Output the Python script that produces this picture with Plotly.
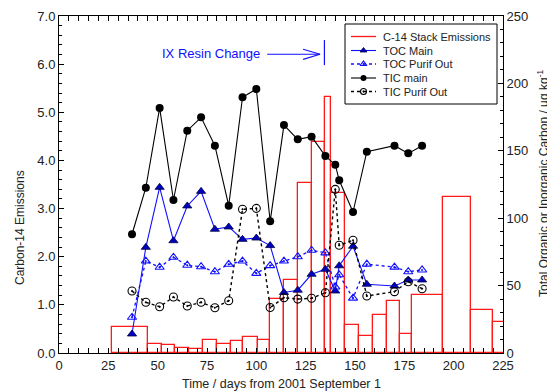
import numpy as np
import plotly.graph_objects as go

# ---- Data ----
# C-14 stack emissions: histogram-like bars between sampling dates (days)
bar_edges = [27, 45, 52, 59, 66, 73, 80, 87, 93, 101, 107, 114, 121, 128, 135,
             138, 145, 152, 159, 166, 173, 179, 194.5, 209, 220, 228]
c14_emissions = [0.53, 0.18, 0.16, 0.11, 0.09, 0.28, 0.19, 0.24, 0.34, 0.28,
                 1.12, 1.52, 3.53, 4.38, 5.32, 3.33, 0.58, 0.36, 0.78, 1.07,
                 0.39, 1.21, 3.25, 0.89, 0.64]

sample_days = [37, 44, 51, 58, 65, 72, 79, 86, 93, 100, 107, 114, 121, 128, 135,
               140, 142, 149, 156, 170, 177, 184]
toc_main = [14.1, 78.4, 122.9, 83.3, 109.1, 119.9, 91.8, 93.5, 84.3, 85.3, 79.7,
            44.9, 46.6, 58.4, 62.1, 46.0, 64.7, 79.2, 51.0, 49.7, 54.2, 54.2]
toc_purif = [26.5, 68.2, 63.6, 71.0, 65.1, 64.0, 60.3, 65.8, 68.2, 59.1, 64.8,
             68.2, 71.4, 76.2, 74.3, 49.0, 58.0, 40.7, 65.9, 63.7, 60.3, 61.6]
tic_main = [88.1, 122.6, 181.8, 113.5, 164.9, 174.8, 153.8, 109.3, 189.7, 195.8,
            97.7, 169.1, 158.5, 160.5, 146.1, 139.7, 128.1, 104.6, 149.3, 153.8,
            148.1, 153.8]
tic_purif = [46.0, 37.6, 34.3, 41.5, 34.9, 37.6, 33.6, 38.8, 106.6, 107.3, 33.7,
             41.0, 40.0, 40.6, 44.7, 121.4, 79.9, 83.6, 42.3, 45.5, 52.9, 47.7]

resin_change_day = 134.5
legend_names = ["C-14 Stack Emissions", "TOC Main", "TOC Purif Out", "TIC main", "TIC Purif Out"]

edges = np.array(bar_edges, dtype=float)
centers = (edges[:-1] + edges[1:]) / 2
widths = np.diff(edges)

FONT = "Liberation Sans, Arial, sans-serif"
BLUE = "#1010ff"
RED = "#ff1a1a"
TXT = "#222"

# The page body has an 8px margin, so the figure is placed at (8, 8) on screen.
OFF = 8
W, H = 555 - OFF, 392 - OFF
# plot-area geometry in screen pixels
L, R, T, B = 59, 503, 16, 353
def px(xp):
    return (xp - L) / (R - L)
def py(yp):
    return (B - yp) / (B - T)

styles = {
    "TOC Main": dict(line=dict(color=BLUE, width=1.1),
                     marker=dict(symbol="triangle-up", size=8, color="#0000c0",
                                 line=dict(color="#000040", width=0.8))),
    "TOC Purif Out": dict(line=dict(color=BLUE, width=1.3, dash="dot"),
                          marker=dict(symbol="triangle-up-open-dot", size=8, color=BLUE,
                                      line=dict(color=BLUE, width=1.1))),
    "TIC main": dict(line=dict(color="black", width=1.1),
                     marker=dict(symbol="circle", size=8, color="black")),
    "TIC Purif Out": dict(line=dict(color="black", width=1.4, dash="dot"),
                          marker=dict(symbol="circle-open-dot", size=8, color="black",
                                      line=dict(color="black", width=1.1))),
}

fig = go.Figure()

fig.add_trace(go.Bar(
    x=centers, y=c14_emissions, width=widths, yaxis="y",
    marker=dict(color="rgba(0,0,0,0)", line=dict(color=RED, width=1.3)),
    showlegend=False, hoverinfo="skip"))

for name, vals in [("TOC Main", toc_main), ("TOC Purif Out", toc_purif),
                   ("TIC main", tic_main), ("TIC Purif Out", tic_purif)]:
    fig.add_trace(go.Scatter(x=sample_days, y=vals, yaxis="y2", name=name,
                             mode="lines+markers", showlegend=False, **styles[name]))

# ---- manual legend (pixel-coordinate helper axes x3/y3) ----
leg_box = (345, 24, 497, 104)
leg_rows = [36.5, 50.5, 64.0, 78.0, 91.5]
sample_x0, sample_x1, text_x = 351, 376, 381
shapes = [dict(type="rect", xref="x3", yref="y3", x0=leg_box[0], x1=leg_box[2],
               y0=leg_box[1], y1=leg_box[3], line=dict(color="black", width=1),
               fillcolor="white", layer="below")]
annotations = []
for i, name in enumerate(legend_names):
    yy = leg_rows[i]
    if i == 0:
        lc, ld, lw = RED, "solid", 1.3
    else:
        lc = styles[name]["line"]["color"]
        ld = styles[name]["line"].get("dash", "solid")
        lw = styles[name]["line"]["width"]
    shapes.append(dict(type="line", xref="x3", yref="y3", x0=sample_x0, x1=sample_x1,
                       y0=yy, y1=yy, line=dict(color=lc, width=lw, dash=ld), layer="below"))
    annotations.append(dict(x=px(text_x), y=py(yy), xref="paper", yref="paper",
                            text=name, showarrow=False, xanchor="left", yanchor="middle",
                            font=dict(family=FONT, size=11, color=TXT)))
    if i > 0:
        mk = dict(styles[name]["marker"])
        mk["size"] = 6
        fig.add_trace(go.Scatter(x=[(sample_x0 + sample_x1) / 2], y=[yy], xaxis="x3",
                                 yaxis="y3", mode="markers", marker=mk,
                                 showlegend=False, hoverinfo="skip"))

# IX resin change marker
shapes += [
    dict(type="line", xref="x", yref="y", x0=resin_change_day, x1=resin_change_day,
         y0=5.98, y1=6.50, line=dict(color=BLUE, width=1.2)),
    dict(type="line", xref="x", yref="y", x0=105.5, x1=132.3, y0=6.205, y1=6.205,
         line=dict(color=BLUE, width=1.2)),
    dict(type="line", xref="x", yref="y", x0=123.7, x1=132.3, y0=6.31, y1=6.205,
         line=dict(color=BLUE, width=1.2)),
    dict(type="line", xref="x", yref="y", x0=123.7, x1=132.3, y0=6.10, y1=6.205,
         line=dict(color=BLUE, width=1.2)),
]

annotations += [
    dict(x=103, y=6.215, xref="x", yref="y", text="IX Resin Change", showarrow=False,
         xanchor="right", yanchor="middle", font=dict(family=FONT, size=13, color=BLUE)),
    dict(x=px(281), y=py(384), xref="paper", yref="paper",
         text="Time / days from 2001 September 1", showarrow=False,
         xanchor="center", yanchor="middle", font=dict(family=FONT, size=12.5, color=TXT)),
    dict(x=px(20), y=py(228), xref="paper", yref="paper", text="Carbon-14 Emissions",
         textangle=-90, showarrow=False, xanchor="center", yanchor="middle",
         font=dict(family=FONT, size=12, color=TXT)),
    dict(x=px(543), y=py(184), xref="paper", yref="paper",
         text="Total Organic or Inorganic Carbon / µg kg<sup>-1</sup>",
         textangle=-90, showarrow=False, xanchor="center", yanchor="middle",
         font=dict(family=FONT, size=12, color=TXT)),
]

axis_common = dict(showgrid=False, zeroline=False, showline=True, linecolor="black",
                   linewidth=1, ticks="inside", tickcolor="black", automargin=False,
                   tickfont=dict(family=FONT, size=13, color=TXT))

fig.update_layout(
    width=W, height=H,
    margin=dict(l=L - OFF, r=W - (R - OFF), t=T - OFF, b=H - (B - OFF), pad=0),
    paper_bgcolor="white", plot_bgcolor="white",
    font=dict(family=FONT, size=12, color=TXT),
    bargap=0, showlegend=False,
    xaxis=dict(range=[0, 225], tick0=0, dtick=25, ticklen=5, mirror="allticks",
               minor=dict(dtick=5, ticks="inside", ticklen=3, tickcolor="black"),
               **axis_common),
    yaxis=dict(range=[0, 7], tick0=0, dtick=1, tickformat=".1f", ticklen=5,
               minor=dict(dtick=0.2, ticks="inside", ticklen=3, tickcolor="black"),
               **axis_common),
    yaxis2=dict(range=[0, 250], tick0=0, dtick=50, ticklen=5, overlaying="y",
                side="right",
                minor=dict(dtick=10, ticks="inside", ticklen=3, tickcolor="black"),
                **axis_common),
    xaxis3=dict(range=[L, R], overlaying="x", visible=False, fixedrange=True),
    yaxis3=dict(range=[B, T], overlaying="y", visible=False, fixedrange=True),
    shapes=shapes,
    annotations=annotations,
)

fig.write_html("out.html")
